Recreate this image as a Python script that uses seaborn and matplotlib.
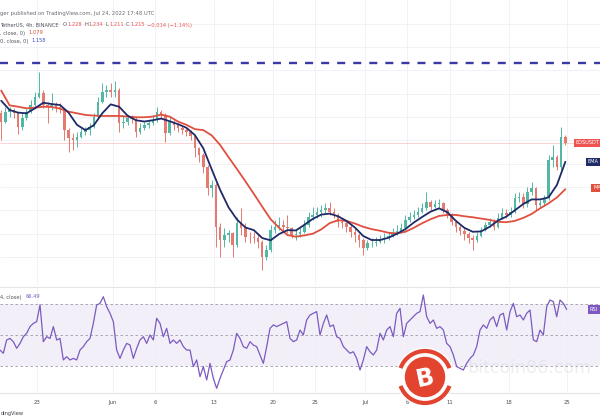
import numpy as np
import pandas as pd
import matplotlib
matplotlib.use("Agg")
import matplotlib.pyplot as plt
import seaborn as sns
from matplotlib.patches import Circle, Arc

sns.set_theme(style="white")
plt.rcParams['font.family'] = ['DejaVu Sans']

# ---------------- data (EOS/USDT, 12h candles) ----------------
first_open = 1.305
close = [1.280, 1.310, 1.315, 1.305, 1.264, 1.290, 1.310, 1.330, 1.355, 1.365,
         1.330, 1.325, 1.330, 1.325, 1.317, 1.254, 1.229, 1.224, 1.234, 1.249,
         1.254, 1.264, 1.295, 1.340, 1.371, 1.376, 1.371, 1.376, 1.275, 1.280,
         1.290, 1.287, 1.249, 1.259, 1.270, 1.275, 1.285, 1.310, 1.300, 1.244,
         1.280, 1.270, 1.259, 1.254, 1.249, 1.236, 1.199, 1.179, 1.143, 1.078,
         1.088, 0.961, 0.921, 0.936, 0.941, 0.906, 0.972, 0.956, 0.931, 0.929,
         0.926, 0.916, 0.871, 0.891, 0.951, 0.961, 0.967, 0.961, 0.956, 0.936,
         0.939, 0.946, 0.967, 0.992, 0.997, 1.007, 1.012, 1.017, 1.007, 0.997,
         0.977, 0.972, 0.961, 0.946, 0.936, 0.921, 0.896, 0.911, 0.913, 0.916,
         0.923, 0.926, 0.933, 0.941, 0.949, 0.956, 0.982, 0.992, 0.997, 1.007,
         1.017, 1.037, 1.022, 1.030, 1.032, 1.012, 0.997, 0.977, 0.961, 0.949,
         0.939, 0.926, 0.921, 0.933, 0.951, 0.967, 0.977, 0.961, 0.987, 1.004,
         0.997, 1.007, 1.047, 1.052, 1.030, 1.068, 1.078, 1.027, 1.032, 1.047,
         1.164, 1.174, 1.143, 1.234, 1.215]
high = [1.315, 1.325, 1.325, 1.320, 1.305, 1.305, 1.317, 1.345, 1.371, 1.431,
        1.376, 1.340, 1.365, 1.340, 1.335, 1.320, 1.259, 1.244, 1.249, 1.259,
        1.264, 1.275, 1.305, 1.355, 1.396, 1.391, 1.396, 1.404, 1.381, 1.300,
        1.300, 1.300, 1.295, 1.275, 1.280, 1.285, 1.300, 1.325, 1.315, 1.305,
        1.295, 1.285, 1.275, 1.267, 1.259, 1.254, 1.239, 1.204, 1.184, 1.148,
        1.103, 1.093, 0.972, 0.956, 0.951, 0.946, 0.992, 1.017, 0.972, 0.946,
        0.946, 0.941, 0.921, 0.906, 0.967, 0.982, 0.992, 0.982, 0.997, 0.961,
        0.951, 0.961, 0.982, 1.007, 1.022, 1.022, 1.027, 1.032, 1.037, 1.017,
        1.002, 0.987, 0.982, 0.967, 0.956, 0.941, 0.926, 0.921, 0.926, 0.931,
        0.936, 0.941, 0.946, 0.956, 0.967, 0.972, 0.997, 1.007, 1.012, 1.022,
        1.032, 1.068, 1.042, 1.042, 1.044, 1.037, 1.017, 1.002, 0.982, 0.967,
        0.956, 0.946, 0.936, 0.946, 0.961, 0.977, 0.987, 0.984, 1.002, 1.017,
        1.014, 1.022, 1.063, 1.068, 1.063, 1.083, 1.098, 1.083, 1.042, 1.057,
        1.179, 1.209, 1.179, 1.264, 1.239]
low = [1.224, 1.275, 1.295, 1.290, 1.242, 1.254, 1.285, 1.305, 1.325, 1.350,
       1.320, 1.275, 1.315, 1.310, 1.305, 1.224, 1.189, 1.194, 1.204, 1.229,
       1.239, 1.239, 1.259, 1.290, 1.335, 1.355, 1.355, 1.355, 1.249, 1.259,
       1.270, 1.275, 1.234, 1.242, 1.254, 1.259, 1.270, 1.280, 1.290, 1.219,
       1.239, 1.254, 1.249, 1.242, 1.236, 1.224, 1.174, 1.158, 1.123, 1.057,
       1.052, 0.901, 0.871, 0.901, 0.916, 0.871, 0.901, 0.936, 0.916, 0.911,
       0.911, 0.896, 0.830, 0.860, 0.886, 0.941, 0.951, 0.946, 0.941, 0.926,
       0.921, 0.931, 0.941, 0.961, 0.982, 0.987, 0.992, 1.002, 0.997, 0.987,
       0.961, 0.956, 0.946, 0.931, 0.916, 0.901, 0.876, 0.891, 0.901, 0.903,
       0.911, 0.913, 0.921, 0.929, 0.936, 0.941, 0.951, 0.977, 0.984, 0.992,
       1.004, 1.012, 1.012, 1.017, 1.017, 1.002, 0.987, 0.967, 0.946, 0.936,
       0.921, 0.911, 0.891, 0.916, 0.931, 0.949, 0.961, 0.951, 0.956, 0.984,
       0.987, 0.992, 1.002, 1.037, 1.017, 1.022, 1.057, 1.012, 1.017, 1.027,
       1.042, 1.143, 1.133, 1.133, 1.209]
ema20 = [1.343, 1.315, 1.307, 1.305, 1.320, 1.337, 1.333, 1.330, 1.307, 1.270,
         1.254, 1.269, 1.305, 1.332, 1.325, 1.298, 1.284, 1.280, 1.284, 1.289,
         1.281, 1.272, 1.261, 1.239, 1.199, 1.135, 1.073, 1.020, 0.983, 0.959,
         0.951, 0.927, 0.920, 0.939, 0.951, 0.950, 0.967, 0.985, 0.998, 1.001,
         0.993, 0.979, 0.959, 0.933, 0.921, 0.921, 0.928, 0.940, 0.954, 0.974,
         0.991, 1.007, 1.017, 1.005, 0.979, 0.958, 0.946, 0.947, 0.961, 0.980,
         0.992, 1.011, 1.030, 1.044, 1.044, 1.050, 1.088, 1.158]
ema50 = [1.374, 1.329, 1.325, 1.320, 1.322, 1.325, 1.324, 1.319, 1.310, 1.305,
         1.300, 1.298, 1.297, 1.297, 1.297, 1.295, 1.293, 1.293, 1.295, 1.301,
         1.295, 1.280, 1.270, 1.257, 1.254, 1.238, 1.209, 1.172, 1.136, 1.099,
         1.061, 1.022, 0.984, 0.958, 0.936, 0.931, 0.935, 0.940, 0.953, 0.972,
         0.981, 0.979, 0.971, 0.961, 0.954, 0.949, 0.943, 0.941, 0.946, 0.958,
         0.972, 0.984, 0.994, 0.997, 0.997, 0.993, 0.990, 0.986, 0.982, 0.976,
         0.975, 0.979, 0.988, 1.000, 1.017, 1.032, 1.050, 1.075]
rsi = [40.3, 38.2, 46.8, 47.8, 45.7, 41.4, 44.6, 48.9, 51.1, 55.4,
       57.5, 58.6, 69.4, 45.7, 48.9, 47.8, 55.4, 46.8, 47.8, 33.9,
       36.0, 33.9, 34.9, 33.9, 40.3, 42.5, 45.7, 47.8, 57.5, 69.4,
       70.4, 74.7, 68.3, 64.0, 58.6, 40.3, 34.9, 40.3, 44.6, 43.5,
       34.9, 41.4, 46.8, 48.9, 44.6, 50.0, 46.8, 60.8, 57.5, 48.9,
       54.3, 44.6, 46.8, 44.6, 46.8, 42.5, 40.3, 40.3, 29.6, 33.9,
       23.1, 29.6, 21.0, 31.7, 22.0, 15.6, 22.0, 27.4, 32.8, 33.9,
       40.3, 51.1, 47.8, 42.5, 41.4, 45.7, 43.5, 42.5, 37.1, 31.7,
       42.5, 54.3, 56.5, 55.4, 56.5, 57.5, 58.6, 47.8, 45.7, 46.8,
       53.2, 50.0, 59.7, 62.9, 64.0, 65.1, 50.0, 57.5, 62.9, 55.4,
       56.5, 48.9, 47.8, 42.5, 40.3, 38.2, 39.2, 34.9, 27.4, 33.9,
       42.5, 39.2, 37.1, 40.3, 51.1, 46.8, 53.2, 55.4, 48.9, 64.0,
       67.2, 48.9, 57.5, 59.7, 61.8, 64.0, 65.1, 75.8, 61.8, 57.5,
       59.7, 54.3, 55.4, 53.2, 44.6, 42.5, 37.1, 29.6, 28.5, 27.4,
       31.7, 34.9, 37.1, 42.5, 53.2, 56.5, 54.3, 59.7, 61.8, 55.4,
       62.9, 64.0, 53.2, 65.1, 70.4, 61.8, 62.9, 59.7, 64.0, 66.1,
       46.8, 45.7, 53.2, 50.0, 68.3, 72.6, 71.5, 61.8, 72.6, 70.4, 66.5]
resistance = 1.4574
last_close = 1.215
last_ema20 = 1.158
last_ema50 = 1.079
last_rsi = 66.49
rsi_levels = [70, 50, 30]
xtick_days = [23, 32, 37, 44, 51, 56, 62, 67, 72, 79, 86]
xtick_labels = ["23", "Jun", "6", "13", "20", "25", "Jul", "6", "11", "18", "25"]

# time axes (May 1 = 1)
candle_day = 18.75 + 0.5 * np.arange(len(close))
ema_day = 18.75 + 1.0 * np.arange(len(ema20))
rsi_day = 18.606 + 0.3959 * np.arange(len(rsi))

c = np.array(close)
o = np.array([first_open] + close[:-1])
df = pd.DataFrame({"day": candle_day, "open": o, "high": high, "low": low, "close": c})
df_ema = pd.DataFrame({"day": ema_day, "ema20": ema20, "ema50": ema50})
df_rsi = pd.DataFrame({"day": rsi_day, "rsi": rsi})

# ---------------- figure ----------------
W, H = 600, 420
fig = plt.figure(figsize=(6, 4.2), dpi=100)
fig.patch.set_facecolor("white")
ax = fig.add_axes([0, 1 - 285 / H, 1, 285 / H])
ax2 = fig.add_axes([0, 1 - 393 / H, 1, 106 / H])

XMIN, XMAX = 18.606, 89.865
GRID = "#eef0f4"

# ----- price pane -----
up_col, dn_col = "#52b8a4", "#e47a70"
cols = np.where(df["close"] >= df["open"], up_col, dn_col)
ax.vlines(df["day"], df["low"], df["high"], colors=cols, linewidth=0.7, zorder=2)
body_bottom = np.minimum(df["open"], df["close"])
body_h = np.maximum(np.abs(df["close"] - df["open"]), 0.002)
ax.bar(df["day"], body_h, bottom=body_bottom, width=0.3, color=cols, linewidth=0, zorder=3)

sns.lineplot(data=df_ema, x="day", y="ema50", ax=ax, color="#e0503f", linewidth=1.3, zorder=4, legend=False)
sns.lineplot(data=df_ema, x="day", y="ema20", ax=ax, color="#1f2a68", linewidth=1.3, zorder=5, legend=False)

ax.axhline(resistance, color="#3a3aa6", linewidth=1.7, dashes=(3.4, 3.4), zorder=6)
ax.axhline(last_close, color="#ef5350", linewidth=0.6, alpha=0.3, zorder=1)

ax.set_xlim(XMIN, XMAX)
ax.set_ylim(0.7847, 1.6483)
ax.set_xticks(xtick_days)
ax.set_yticks(np.arange(0.870, 1.60, 0.0707))
ax.grid(True, color=GRID, linewidth=0.6)
ax.tick_params(labelbottom=False, labelleft=False, length=0)
ax.set_xlabel("")
ax.set_ylabel("")
for s in ax.spines.values():
    s.set_visible(False)

# right-side price labels (the reference crops them at the right edge)
def price_tag(axis, px_left, yval, txt, color):
    axis.annotate(txt, xy=(px_left / W, yval), xycoords=("axes fraction", "data"),
                  ha="left", va="center", fontsize=3.6, color="white",
                  bbox=dict(boxstyle="square,pad=0.35", fc=color, ec="none"),
                  annotation_clip=False, zorder=8)

price_tag(ax, 576, last_close, "EOSUSDT", "#ef5350")
price_tag(ax, 588, last_ema20, "EMA", "#1f2a68")
price_tag(ax, 593, last_ema50, "MA", "#e0503f")

# ----- RSI pane -----
ax2.axhspan(30, 70, color="#7e57c2", alpha=0.09, linewidth=0, zorder=0)
for lvl in rsi_levels:
    ax2.axhline(lvl, color="#9a9ca6", linewidth=0.6, dashes=(3, 3), zorder=1)
sns.lineplot(data=df_rsi, x="day", y="rsi", ax=ax2, color="#7b5bbf", linewidth=0.9, zorder=3, legend=False)
ax2.set_xlim(XMIN, XMAX)
ax2.set_ylim(12.58, 80.97)
ax2.set_xticks(xtick_days)
ax2.set_xticklabels(xtick_labels)
ax2.set_yticks([])
ax2.grid(True, axis="x", color=GRID, linewidth=0.6)
ax2.tick_params(axis="x", length=0, pad=4.8, labelsize=3.9, labelcolor="#4f525d")
ax2.set_xlabel("")
ax2.set_ylabel("")
for k, s in ax2.spines.items():
    s.set_visible(k in ("top", "bottom"))
    s.set_color("#e3e5ea")
    s.set_linewidth(0.8)
price_tag(ax2, 590, last_rsi, "RSI", "#7e57c2")

# ----- overlay for header texts and watermark (pixel coordinates) -----
ov = fig.add_axes([0, 0, 1, 1], zorder=10)
ov.set_xlim(0, W)
ov.set_ylim(H, 0)
ov.axis("off")
ov.patch.set_alpha(0)

renderer = fig.canvas.get_renderer()
GRAY = "#55575f"
RED = "#ef5350"

def chain(x, y, parts, size=3.9):
    for txt, col, gap in parts:
        t = ov.text(x + gap, y, txt, color=col, fontsize=size, ha="left", va="baseline")
        bb = t.get_window_extent(renderer)
        x = bb.x1

chain(0.5, 14.5, [("ger published on TradingView.com, Jul 24, 2022 17:48 UTC", "#6a6c74", 0)], size=3.8)
chain(0.5, 26.5, [("TetherUS, 4h, BINANCE", GRAY, 0), ("O", GRAY, 3.5), ("1.228", RED, 0.5),
                  ("H", GRAY, 2.5), ("1.234", RED, 0.5), ("L", GRAY, 2.5), ("1.211", RED, 0.5),
                  ("C", GRAY, 2.5), ("1.215", RED, 0.5), ("\u22120.014 (\u22121.14%)", RED, 2.5)], size=3.7)
chain(0.5, 34.5, [(", close, 0)", GRAY, 0), ("1.079", "#e0503f", 3)], size=3.7)
chain(0.5, 42.5, [("0, close, 0)", GRAY, 0), ("1.158", "#3a52c4", 3)], size=3.7)
chain(0.5, 298.5, [("4, close)", GRAY, 0), ("66.49", "#7e57c2", 4)], size=3.7)
chain(0.5, 415, [("dingView", "#3a3c44", 0)], size=3.6)

# watermark
ov.text(467, 368, "bitcoin86.com", fontsize=12.5, color="#cfd0d4", alpha=0.35,
        ha="left", va="center")
cx, cy = 425, 377
ov.add_patch(Circle((cx, cy), 29, color="white", alpha=0.75, zorder=1))
ov.add_patch(Arc((cx, cy), 52, 52, theta1=200, theta2=340, color="#e2442f", linewidth=3.0, zorder=2))
ov.add_patch(Arc((cx, cy), 52, 52, theta1=20, theta2=160, color="#e2442f", linewidth=3.0, zorder=2))
ov.add_patch(Circle((cx, cy), 19.5, color="#e2442f", zorder=3))
ov.text(cx, cy + 1, "B", fontsize=17, fontweight="bold", color="white", ha="center", va="center",
        rotation=12, zorder=4)

fig.savefig("out.png", dpi=100)
